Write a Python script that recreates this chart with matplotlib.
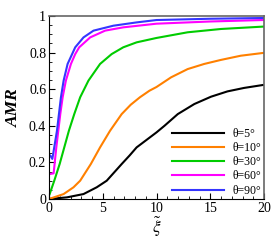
import matplotlib
matplotlib.use('Agg')
import matplotlib.pyplot as plt
from matplotlib.ticker import MultipleLocator

plt.rcParams['font.family'] = ['Liberation Serif', 'DejaVu Serif']
plt.rcParams['mathtext.fontset'] = 'stix'

# values
labels = ['θ=5°', 'θ=10°', 'θ=30°', 'θ=60°', 'θ=90°']
colors = ['#000000', '#ff8000', '#00cc00', '#ff00ff', '#3535ff']

x5 = [0, 1.67, 3.21, 4.44, 5.37, 6.76, 7.5, 8.15, 10.0, 10.74, 11.98, 13.52, 15.07, 16.6, 18.15, 19.9]
y5 = [0, 0.009, 0.027, 0.064, 0.100, 0.191, 0.238, 0.282, 0.364, 0.40, 0.464, 0.519, 0.559, 0.588, 0.607, 0.623]

x10 = [0, 1.36, 2.28, 2.90, 3.89, 4.75, 5.68, 6.76, 7.6, 8.46, 9.35, 10.0, 11.36, 12.9, 14.44, 15.99, 17.84, 19.9]
y10 = [0, 0.027, 0.064, 0.100, 0.191, 0.282, 0.373, 0.464, 0.515, 0.556, 0.592, 0.612, 0.665, 0.710, 0.738, 0.760, 0.783, 0.798]

x30 = [0.06, 0.49, 0.99, 1.42, 1.85, 2.35, 2.90, 3.67, 4.75, 5.83, 6.91, 8.15, 10.0, 12.9, 15.99, 19.9]
y30 = [0.027, 0.100, 0.191, 0.282, 0.373, 0.464, 0.556, 0.647, 0.738, 0.792, 0.829, 0.856, 0.880, 0.911, 0.929, 0.942]

x60 = [0.12, 0.43, 0.68, 1.05, 1.27, 1.57, 2.04, 2.44, 2.81, 3.83, 5.22, 6.91, 10.0, 15.0, 19.9]
y60 = [0.137, 0.140, 0.282, 0.464, 0.556, 0.647, 0.738, 0.792, 0.829, 0.883, 0.920, 0.938, 0.958, 0.970, 0.978]

x90 = [0.12, 0.31, 0.74, 1.11, 1.36, 1.73, 2.44, 3.21, 4.14, 5.99, 8.15, 10.0, 15.0, 19.9]
y90 = [0.237, 0.219, 0.373, 0.556, 0.647, 0.738, 0.829, 0.883, 0.920, 0.947, 0.965, 0.978, 0.985, 0.989]

xs = [x5, x10, x30, x60, x90]
ys = [y5, y10, y30, y60, y90]

fig = plt.figure(figsize=(2.73, 2.42), dpi=100)
ax = fig.add_axes([49/273, 1 - 199/242, 215/273, 183/242])

for x, y, c, lab in zip(xs, ys, colors, labels):
    ax.plot(x, y, color=c, lw=1.5, label=lab, solid_joinstyle='round')

ax.set_xlim(0, 20)
ax.set_ylim(0, 1)
ax.xaxis.set_major_locator(MultipleLocator(5))
ax.xaxis.set_minor_locator(MultipleLocator(1))
ax.yaxis.set_minor_locator(MultipleLocator(0.05))
ax.set_yticks([0, 0.2, 0.4, 0.6, 0.8, 1])
ax.set_yticklabels(['0', '0.2', '0.4', '0.6', '0.8', '1'])
ax.tick_params(which='both', direction='in', labelsize=10, pad=2)
ax.tick_params(which='major', length=4, width=0.8)
ax.tick_params(which='minor', length=2, width=0.6)

for s in ['top', 'right']:
    ax.spines[s].set_color('#666666')
    ax.spines[s].set_linewidth(1.2)

ax.set_xlabel(r'$\tilde{\xi}$', fontsize=12.5, labelpad=0)
ax.set_ylabel('AMR', fontsize=12.5, fontweight='bold', fontstyle='italic', labelpad=5)

ax.legend(loc='lower right', frameon=False, fontsize=8.5, handlelength=4.4,
          handletextpad=0.75, labelspacing=0.19, borderaxespad=0.0, borderpad=0.2)

fig.savefig('out.png', dpi=100)
